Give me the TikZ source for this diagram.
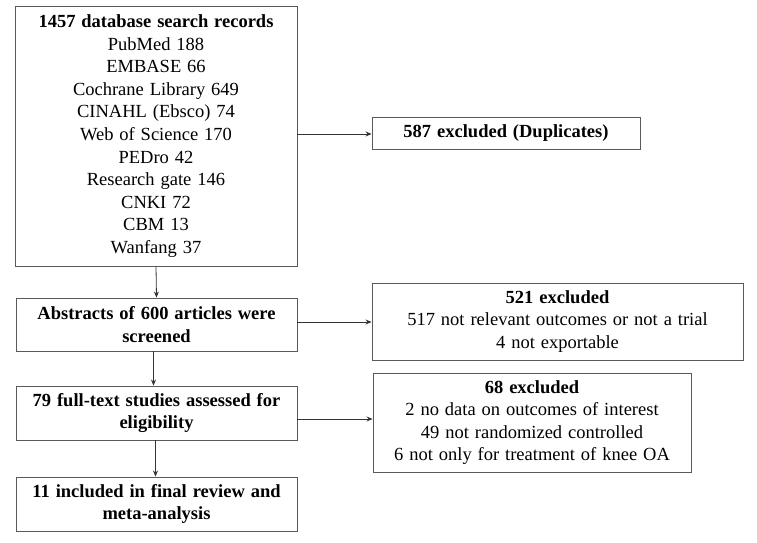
\documentclass[tikz,border=0pt]{standalone}
\usepackage{fontspec}
\setmainfont{Liberation Serif}
\usetikzlibrary{arrows.meta}
\newcommand{\boxfont}{\fontsize{18.5}{22.6}\selectfont\spaceskip=0.32em plus 0.1em\relax}
\begin{document}
\begin{tikzpicture}[x=1pt,y=-1pt,
  box/.style={draw=black!65,line width=0.9pt,rectangle,inner sep=0pt,align=center,
    font=\boxfont},
  conn/.style={draw=black!80,line width=0.8pt,-{Stealth[length=6pt,width=5pt]}}]
\useasboundingbox[fill=white] (0,0) rectangle (757,543);
\node[box,minimum width=282pt,minimum height=260pt] (rec) at (156,136)
  {\textbf{1457 database search records}\\PubMed 188\\EMBASE 66\\Cochrane Library 649\\CINAHL (Ebsco) 74\\Web of Science 170\\PEDro 42\\Research gate 146\\CNKI 72\\CBM 13\\Wanfang 37};
\node[box,minimum width=268pt,minimum height=32pt] (dup) at (506,133)
  {\textbf{587 excluded (Duplicates)}};
\node[box,minimum width=281pt,minimum height=53pt] (abs) at (156.5,324.5)
  {\textbf{Abstracts of 600 articles were}\\\textbf{screened}};
\node[box,minimum width=371pt,minimum height=77pt] (ex1) at (557.5,321.5)
  {\textbf{521 excluded}\\517 not relevant outcomes or not a trial\\4 not exportable};
\node[box,minimum width=281pt,minimum height=54pt] (full) at (156.5,413)
  {\textbf{79 full-text studies assessed for}\\\textbf{eligibility}};
\node[box,minimum width=318pt,minimum height=99pt] (ex2) at (532,422.5)
  {\textbf{68 excluded}\\2 no data on outcomes of interest\\49 not randomized controlled\\6 not only for treatment of knee OA};
\node[box,minimum width=281pt,minimum height=54pt] (inc) at (156.5,504)
  {\textbf{11 included in final review and}\\\textbf{meta-analysis}};
\draw[conn] ([yshift=2pt]rec.east) -- ([yshift=2pt]rec.east -| dup.west);
\draw[conn] (rec.south) -- (abs.north);
\draw[conn] ([yshift=2.5pt]abs.east) -- ([yshift=2.5pt]abs.east -| ex1.west);
\draw[conn] ([xshift=-3pt]abs.south) -- ([xshift=-3pt]full.north);
\draw[conn] ([yshift=-6pt]full.east) -- ([yshift=-6pt]full.east -| ex2.west);
\draw[conn] ([xshift=-1pt]full.south) -- ([xshift=-1pt]inc.north);
\end{tikzpicture}
\end{document}
